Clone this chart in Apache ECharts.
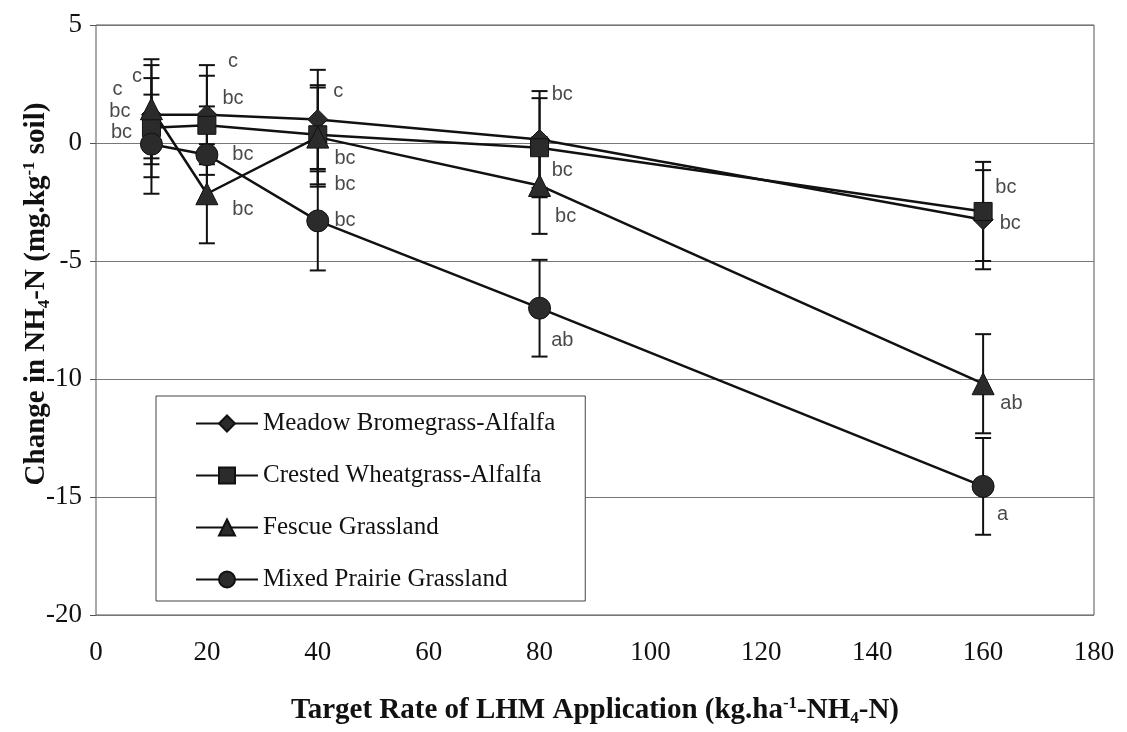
<!DOCTYPE html>
<html>
<head>
<meta charset="utf-8">
<script src="https://cdn.jsdelivr.net/npm/echarts@6/dist/echarts.min.js"></script>
<style>
  html, body { margin: 0; padding: 0; background: #fff; }
  #chart { width: 1127px; height: 732px; }
</style>
</head>
<body>
<div id="chart"></div>
<script>
// Target LHM application rates (kg/ha NH4-N)
const rates = [10, 20, 40, 80, 160];

// Mean change in soil NH4-N (mg/kg) and error half-widths per system
const meadowVals  = [1.2, 1.2, 1.0, 0.15, -3.25];
const meadowErr   = [2.1, 2.1, 2.1, 2.05, 2.1];
const crestedVals = [0.65, 0.75, 0.35, -0.2, -2.9];
const crestedErr  = [2.1, 2.1, 2.1, 2.1, 2.1];
const fescueVals  = [1.45, -2.15, 0.25, -1.8, -10.2];
const fescueErr   = [2.1, 2.1, 2.1, 2.05, 2.1];
const mixedVals   = [-0.05, -0.5, -3.3, -7.0, -14.55];
const mixedErr    = [2.1, 2.05, 2.1, 2.05, 2.05];

const seriesNames = [
  'Meadow Bromegrass-Alfalfa',
  'Crested Wheatgrass-Alfalfa',
  'Fescue Grassland',
  'Mixed Prairie Grassland'
];

// Significance letters: [rate, y position, letter]
const letters = [
  [7.4, 2.8, 'c'], [3.9, 2.25, 'c'], [4.3, 1.35, 'bc'], [4.6, 0.45, 'bc'],
  [24.7, 3.45, 'c'], [24.7, 1.9, 'bc'], [26.5, -0.5, 'bc'], [26.5, -2.8, 'bc'],
  [43.7, 2.2, 'c'], [44.9, -0.65, 'bc'], [44.9, -1.75, 'bc'], [44.9, -3.3, 'bc'],
  [84.1, 2.05, 'bc'], [84.1, -1.15, 'bc'], [84.7, -3.1, 'bc'], [84.1, -8.35, 'ab'],
  [164.1, -1.9, 'bc'], [164.9, -3.4, 'bc'], [165.1, -11.05, 'ab'], [163.5, -15.75, 'a']
];

const serif = '"Liberation Serif", "Times New Roman", serif';
const sans = '"Liberation Sans", Arial, sans-serif';

const symbols = ['diamond', 'rect', 'triangle', 'circle'];
const symbolSizes = [20, 18, 22, 22];
const valsList = [meadowVals, crestedVals, fescueVals, mixedVals];
const errList = [meadowErr, crestedErr, fescueErr, mixedErr];

const markerFill = '#2b2b2b';

function errorBarSeries(vals, errs) {
  return {
    type: 'custom',
    silent: true,
    z: 1,
    data: rates.map((r, i) => [r, vals[i] - errs[i], vals[i] + errs[i]]),
    renderItem: function (params, api) {
      const x = api.value(0);
      const lo = api.coord([x, api.value(1)]);
      const hi = api.coord([x, api.value(2)]);
      const half = 8;
      const st = { stroke: '#111', lineWidth: 2 };
      return {
        type: 'group',
        children: [
          { type: 'line', shape: { x1: hi[0], y1: hi[1], x2: lo[0], y2: lo[1] }, style: st },
          { type: 'line', shape: { x1: hi[0] - half, y1: hi[1], x2: hi[0] + half, y2: hi[1] }, style: st },
          { type: 'line', shape: { x1: lo[0] - half, y1: lo[1], x2: lo[0] + half, y2: lo[1] }, style: st }
        ]
      };
    }
  };
}

const series = [];
valsList.forEach((vals, k) => {
  series.push(errorBarSeries(vals, errList[k]));
});
valsList.forEach((vals, k) => {
  series.push({
    name: seriesNames[k],
    type: 'line',
    z: 3,
    data: rates.map((r, i) => [r, vals[i]]),
    symbol: symbols[k],
    symbolSize: symbolSizes[k],
    lineStyle: { color: '#111', width: 2.5 },
    itemStyle: { color: markerFill, borderColor: '#111', borderWidth: 1 },
    emphasis: { disabled: true },
    animation: false
  });
});
series.push({
  type: 'scatter',
  z: 4,
  symbolSize: 0,
  silent: true,
  data: letters.map(d => ({ value: [d[0], d[1]], name: d[2] })),
  label: {
    show: true,
    position: 'inside',
    formatter: p => p.name,
    fontFamily: sans,
    fontSize: 20,
    color: '#1a1a1a'
  }
});

const chart = echarts.init(document.getElementById('chart'), null, { renderer: 'canvas' });
chart.setOption({
  animation: false,
  backgroundColor: '#ffffff',
  grid: { left: 96, right: 33, top: 25, bottom: 107, show: true, borderColor: '#555', borderWidth: 1 },
  xAxis: {
    type: 'value',
    min: 0, max: 180, interval: 20,
    axisLine: { show: false },
    axisTick: { show: false },
    splitLine: { show: false },
    axisLabel: { fontFamily: serif, fontSize: 27, color: '#111', margin: 24 },
    name: '{b|Target Rate of LHM Application (kg.ha}{sup|-1}{b|-NH}{sub|4}{b|-N)}',
    nameLocation: 'middle',
    nameGap: 80,
    nameTextStyle: {
      rich: {
        b: { fontFamily: serif, fontWeight: 'bold', fontSize: 29, color: '#111', lineHeight: 32 },
        sup: { fontFamily: serif, fontWeight: 'bold', fontSize: 17, color: '#111', verticalAlign: 'top' },
        sub: { fontFamily: serif, fontWeight: 'bold', fontSize: 17, color: '#111', verticalAlign: 'bottom' }
      }
    }
  },
  yAxis: {
    type: 'value',
    min: -20, max: 5, interval: 5,
    axisLine: { show: false },
    axisTick: { show: true, inside: false, length: 6, lineStyle: { color: '#555' } },
    splitLine: { show: true, lineStyle: { color: '#777', width: 1 } },
    axisLabel: { fontFamily: serif, fontSize: 27, color: '#111', margin: 14 }
  },
  legend: {
    orient: 'vertical',
    left: 156,
    top: 396,
    padding: [15, 30, 9, 39],
    itemWidth: 62,
    itemHeight: 20,
    itemGap: 27,
    borderColor: '#444',
    borderWidth: 1,
    backgroundColor: '#fff',
    selectedMode: false,
    textStyle: { fontFamily: serif, fontSize: 25, color: '#111', lineHeight: 24 },
    data: seriesNames
  },
  graphic: [{
    type: 'text',
    x: 37,
    y: 294,
    rotation: Math.PI / 2,
    style: {
      text: '{b|Change in NH}{sub|4}{b|-N (mg.kg}{sup|-1}{b| soil)}',
      align: 'center',
      verticalAlign: 'middle',
      rich: {
        b: { fontFamily: serif, fontWeight: 'bold', fontSize: 29, fill: '#111', lineHeight: 32 },
        sup: { fontFamily: serif, fontWeight: 'bold', fontSize: 17, fill: '#111', verticalAlign: 'top' },
        sub: { fontFamily: serif, fontWeight: 'bold', fontSize: 17, fill: '#111', verticalAlign: 'bottom' }
      }
    }
  }],
  series: series
});
</script>
</body>
</html>
